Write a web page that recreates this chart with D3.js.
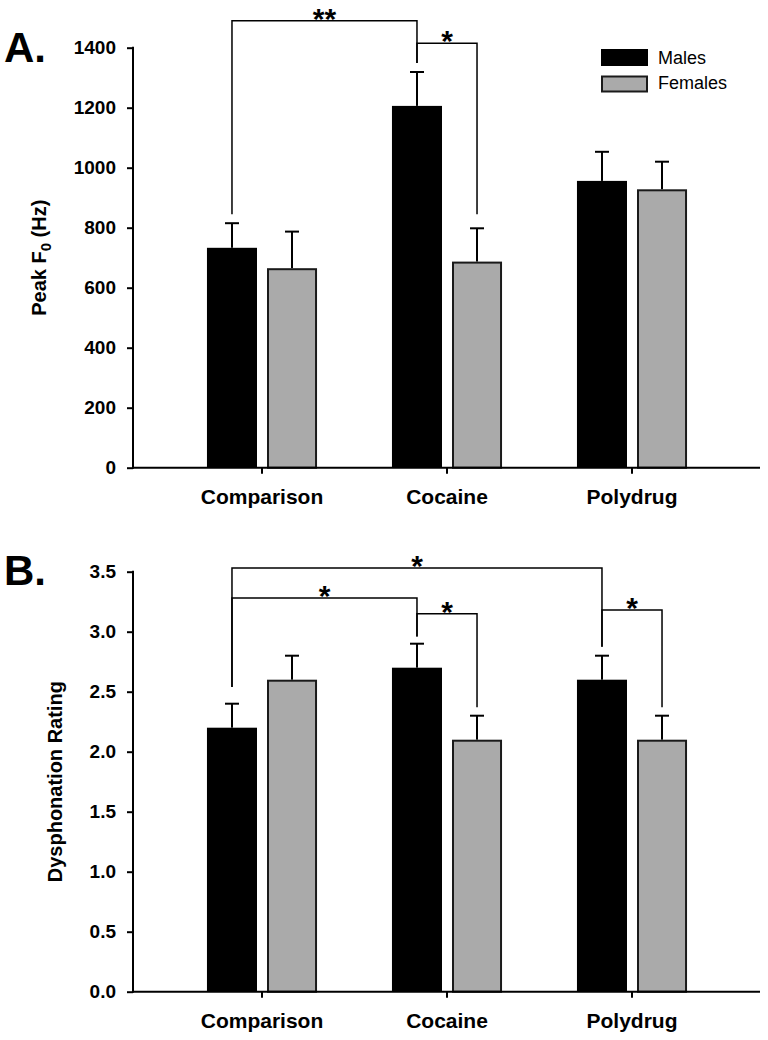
<!DOCTYPE html>
<html>
<head>
<meta charset="utf-8">
<script src="https://cdn.jsdelivr.net/npm/d3@7"></script>
<style>
  html, body { margin: 0; padding: 0; background: #fff; }
  svg { display: block; }
  text { font-family: "Liberation Sans", Arial, Helvetica, sans-serif; }
</style>
</head>
<body>
<svg id="chart" width="768" height="1040"></svg>
<script>
// ---------- data ----------
const groups = ["Comparison", "Cocaine", "Polydrug"];
const sexes = ["Males", "Females"];

const peakMales = [733, 1206, 956];
const peakMalesErr = [82, 113, 97];
const peakFemales = [665, 687, 928];
const peakFemalesErr = [122, 111, 92];
const peakTicks = [0, 200, 400, 600, 800, 1000, 1200, 1400];

const dysMales = [2.2, 2.7, 2.6];
const dysMalesErr = [0.2, 0.2, 0.2];
const dysFemales = [2.6, 2.1, 2.1];
const dysFemalesErr = [0.2, 0.2, 0.2];
const dysTicks = [0, 0.5, 1.0, 1.5, 2.0, 2.5, 3.0, 3.5];

// significance brackets: [groupA, sexA, groupB, sexB, barLevel, legAEnd, legBEnd, label]
const peakBrackets = [
  ["Comparison", "Males", "Cocaine", "Males", 1490, 845, 1349, "**"],
  ["Cocaine", "Males", "Cocaine", "Females", 1415, 1349, 845, "*"]
];
const dysBrackets = [
  ["Comparison", "Males", "Polydrug", "Males", 3.53, 2.54, 2.875, "*"],
  ["Comparison", "Males", "Cocaine", "Males", 3.28, 2.54, 2.96, "*"],
  ["Cocaine", "Males", "Cocaine", "Females", 3.15, 2.96, 2.37, "*"],
  ["Polydrug", "Males", "Polydrug", "Females", 3.18, 2.875, 2.37, "*"]
];

// ---------- layout ----------
const svg = d3.select("#chart");
const axisX = 133, axisRight = 760;
const fillColor = { Males: "#000000", Females: "#aaaaaa" };

const x0 = d3.scaleBand().domain(groups).range([169.5, 724.5])
  .paddingInner(0.405).paddingOuter(0.2025);
const x1 = d3.scaleBand().domain(sexes).range([0, x0.bandwidth()])
  .paddingInner(1 / 6).paddingOuter(0);

function cx(g, s) { return x0(g) + x1(s) + x1.bandwidth() / 2; }

function drawPanel(cfg) {
  const g = svg.append("g");
  const y = d3.scaleLinear().domain(cfg.domain).range([cfg.bottom, cfg.top]);

  const rows = [];
  groups.forEach((grp, i) => {
    rows.push({ grp, sex: "Males", v: cfg.males[i], e: cfg.malesErr[i] });
    rows.push({ grp, sex: "Females", v: cfg.females[i], e: cfg.femalesErr[i] });
  });

  // error bars
  g.selectAll(".err").data(rows).join("line")
    .attr("x1", d => cx(d.grp, d.sex)).attr("x2", d => cx(d.grp, d.sex))
    .attr("y1", d => y(d.v)).attr("y2", d => y(d.v + d.e))
    .attr("stroke", "#000").attr("stroke-width", 2);
  g.selectAll(".cap").data(rows).join("line")
    .attr("x1", d => cx(d.grp, d.sex) - 7).attr("x2", d => cx(d.grp, d.sex) + 7)
    .attr("y1", d => y(d.v + d.e)).attr("y2", d => y(d.v + d.e))
    .attr("stroke", "#000").attr("stroke-width", 2);

  // bars
  g.selectAll(".bar").data(rows).join("rect")
    .attr("x", d => x0(d.grp) + x1(d.sex) + (d.sex === "Females" ? 1 : 0))
    .attr("width", d => x1.bandwidth() - (d.sex === "Females" ? 2 : 0))
    .attr("y", d => y(d.v) + (d.sex === "Females" ? 1 : 0))
    .attr("height", d => y(0) - y(d.v) - (d.sex === "Females" ? 1 : 0))
    .attr("fill", d => fillColor[d.sex])
    .attr("stroke", d => d.sex === "Females" ? "#1a1a1a" : "none")
    .attr("stroke-width", 2);

  // y axis
  const yAxis = d3.axisLeft(y).tickValues(cfg.ticks).tickSize(6).tickPadding(11)
    .tickFormat(cfg.fmt);
  const ya = g.append("g").attr("transform", `translate(${axisX},0)`).call(yAxis);
  ya.select(".domain").remove();
  ya.selectAll(".tick line").attr("stroke", "#000").attr("stroke-width", 2);
  ya.selectAll(".tick text").attr("font-size", 19).attr("font-weight", "bold")
    .attr("fill", "#000").attr("font-family", "Liberation Sans, Arial, sans-serif");
  g.append("line").attr("x1", axisX).attr("x2", axisX)
    .attr("y1", cfg.top - 1).attr("y2", cfg.bottom + 1)
    .attr("stroke", "#000").attr("stroke-width", 2);

  // x axis
  g.append("line").attr("x1", axisX - 1).attr("x2", axisRight)
    .attr("y1", cfg.bottom).attr("y2", cfg.bottom)
    .attr("stroke", "#000").attr("stroke-width", 2);
  const xa = d3.axisBottom(x0).tickSize(6).tickPadding(0);
  const xg = g.append("g").attr("transform", `translate(0,${cfg.bottom})`).call(xa);
  xg.select(".domain").remove();
  xg.selectAll(".tick line").attr("stroke", "#000").attr("stroke-width", 2);
  xg.selectAll(".tick text").attr("y", 36).attr("dy", 0)
    .attr("font-size", 21).attr("font-weight", "bold").attr("fill", "#000")
    .attr("font-family", "Liberation Sans, Arial, sans-serif");

  // y title
  const t = g.append("text")
    .attr("transform", `translate(${cfg.titleX},${(cfg.top + cfg.bottom) / 2}) rotate(-90)`)
    .attr("text-anchor", "middle").attr("font-size", 20).attr("font-weight", "bold");
  cfg.title(t);

  // panel letter
  g.append("text").attr("x", 4).attr("y", cfg.top + cfg.letterDy)
    .attr("font-size", 42).attr("font-weight", "bold").text(cfg.letter);

  // brackets
  cfg.brackets.forEach(b => {
    const xa_ = cx(b[0], b[1]), xb_ = cx(b[2], b[3]);
    const yl = y(b[4]);
    const path = d3.path();
    path.moveTo(xa_, y(b[5]));
    path.lineTo(xa_, yl);
    path.lineTo(xb_, yl);
    path.lineTo(xb_, y(b[6]));
    g.append("path").attr("d", path.toString()).attr("fill", "none")
      .attr("stroke", "#000").attr("stroke-width", 1.5);
    g.append("text").attr("x", (xa_ + xb_) / 2).attr("y", yl + 8)
      .attr("text-anchor", "middle").attr("font-size", 30).attr("font-weight", "bold")
      .text(b[7]);
  });
}

drawPanel({
  domain: [0, 1400], top: 47.7, bottom: 467.7,
  males: peakMales, malesErr: peakMalesErr, females: peakFemales, femalesErr: peakFemalesErr,
  ticks: peakTicks, fmt: d3.format("d"),
  titleX: 46, letter: "A.", letterDy: 14,
  title: t => {
    t.append("tspan").text("Peak F");
    t.append("tspan").attr("font-size", 15).attr("dy", 5).text("0");
    t.append("tspan").attr("dy", -5).text(" (Hz)");
  },
  brackets: peakBrackets
});

drawPanel({
  domain: [0, 3.5], top: 571.7, bottom: 991.7,
  males: dysMales, malesErr: dysMalesErr, females: dysFemales, femalesErr: dysFemalesErr,
  ticks: dysTicks, fmt: d3.format(".1f"),
  titleX: 62, letter: "B.", letterDy: 13,
  title: t => t.text("Dysphonation Rating"),
  brackets: dysBrackets
});

// legend
const legend = svg.append("g");
sexes.forEach((s, i) => {
  legend.append("rect").attr("x", 602).attr("y", 50 + i * 26.5)
    .attr("width", 45).attr("height", 15)
    .attr("fill", fillColor[s])
    .attr("stroke", s === "Females" ? "#1a1a1a" : "#000").attr("stroke-width", 2);
  legend.append("text").attr("x", 658).attr("y", 63.5 + i * 25)
    .attr("font-size", 18).text(s);
});
</script>
</body>
</html>
